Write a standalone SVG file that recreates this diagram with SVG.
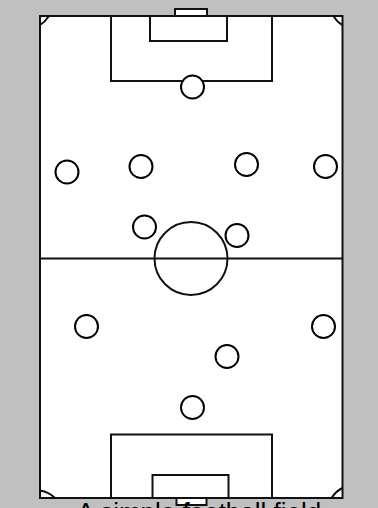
<svg xmlns="http://www.w3.org/2000/svg" width="378" height="508" viewBox="0 0 378 508">
<style>
.ln{fill:none;stroke:#111;stroke-width:2}
.box{fill:#fff;stroke:#111;stroke-width:2}
.pl{fill:#fff;stroke:#000;stroke-width:2}
.cap{font-family:"Liberation Sans",Arial,sans-serif;font-size:26px;fill:#000}
</style>
<rect x="0" y="0" width="378" height="508" fill="#c0c0c0"/>
<g id="pitch">
<rect class="box" x="40" y="16" width="302.5" height="482"/>
<rect class="box" x="175" y="9" width="32" height="7"/>
<rect class="box" x="176.5" y="498" width="30" height="7"/>
<rect class="ln" x="111" y="16" width="161" height="65"/>
<rect class="ln" x="150" y="16" width="77" height="25"/>
<rect class="ln" x="111" y="434.5" width="161" height="63.5"/>
<rect class="ln" x="152.5" y="475" width="76" height="23"/>
<line class="ln" x1="40" y1="258.5" x2="342.5" y2="258.5"/>
<circle class="ln" cx="191" cy="258.5" r="36.5" stroke="#222"/>
<path class="ln" d="M40,25 Q45,22 49,16"/>
<path class="ln" d="M333.5,16 Q337,22 342.5,25"/>
<path class="ln" d="M40,490.5 Q49,492 55,498"/>
<path class="ln" d="M331.5,498 Q336,491 342.5,488"/>
</g>
<g id="players">
<circle id="p1" class="pl" cx="192.5" cy="87" r="11.5"/>
<circle id="p2" class="pl" cx="67" cy="172" r="11.5"/>
<circle id="p3" class="pl" cx="141" cy="166.5" r="11.5"/>
<circle id="p4" class="pl" cx="246.5" cy="164.5" r="11.5"/>
<circle id="p5" class="pl" cx="325.5" cy="166.5" r="11.5"/>
<circle id="p6" class="pl" cx="144.5" cy="227" r="11.5"/>
<circle id="p7" class="pl" cx="237" cy="235.5" r="11.5"/>
<circle id="p8" class="pl" cx="86.5" cy="326.5" r="11.5"/>
<circle id="p9" class="pl" cx="323.5" cy="326.5" r="11.5"/>
<circle id="p10" class="pl" cx="227" cy="356.5" r="11.5"/>
<circle id="p11" class="pl" cx="192.5" cy="407.5" r="11.5"/>
</g>
<g id="connectors"/>
<text class="cap" x="77" y="520.5">A simple football field</text>
</svg>
